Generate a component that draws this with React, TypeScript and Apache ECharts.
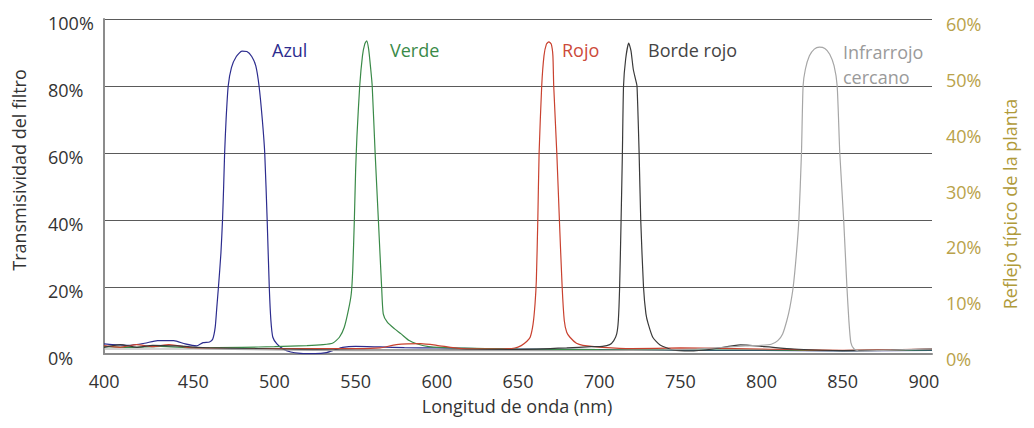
import React, { useEffect, useRef } from "react";
import * as echarts from "echarts";

// Wavelength (nm) / transmissivity (%) pairs
const azul: [number, number][] = [
  [395, 3], [400, 2.8], [410, 2.6], [420, 3.2], [428, 4], [438, 4], [445, 3], [452, 2.4], [456, 3.4], [460, 3.6],
  [462, 4.5], [463.5, 8], [464.5, 14], [465.5, 20], [467, 30], [468, 40], [468.7, 50], [469.3, 60], [470.2, 70],
  [471.5, 80], [473.5, 85.5], [476.5, 88.8], [480, 90.4], [483, 90.3], [486, 88.8], [488.5, 86], [490.5, 80],
  [492.5, 70], [494, 60], [495.5, 40], [496.8, 20], [497.8, 10], [499, 5], [501.5, 3], [505, 1.6], [510, 0.6],
  [516, 0.2], [525, 0.1], [532, 0.4], [537, 1.2], [542, 2], [550, 2.3], [565, 2.1], [580, 1.9], [600, 1.8],
  [650, 1.5], [700, 1.3], [750, 1.1], [800, 1.1], [850, 0.9], [905, 1.1]
];
const verde: [number, number][] = [
  [395, 2.2], [410, 2], [430, 2.3], [450, 1.8], [480, 2], [500, 2.2], [520, 2.5], [530, 2.8], [536, 3.3],
  [540, 5], [543, 8], [545.5, 13], [547.3, 18], [548.2, 25], [549.2, 40], [550, 55], [550.8, 65], [552.5, 80],
  [554.2, 89], [555.6, 92.5], [556.8, 93.5], [558, 91], [559.3, 85], [560.2, 80], [562, 60], [564, 40],
  [566, 20], [567, 12], [569.5, 9.5], [574, 7.5], [578, 6], [583, 4], [588, 3], [595, 2.2], [610, 1.8],
  [650, 1.5], [700, 1.3], [750, 1.2], [800, 1.2], [850, 1], [905, 1.2]
];
const rojo: [number, number][] = [
  [395, 2.5], [405, 2], [415, 2.8], [425, 2.2], [435, 2.8], [450, 1.8], [500, 1.6], [550, 1.6], [565, 1.8],
  [575, 2.8], [590, 3.1], [600, 2.6], [615, 1.6], [640, 1.5], [648, 1.8], [652, 2.5], [655.5, 3.8],
  [657.5, 5], [659.3, 9], [660.5, 15], [661.3, 22], [662.2, 40], [663, 60], [664.6, 80], [666, 89],
  [667.5, 92.5], [669, 93.2], [670.5, 92.5], [671.5, 89], [672, 80], [673.9, 60], [675.5, 40], [677.2, 20],
  [678.5, 10], [680, 6.5], [682, 5], [686, 3.2], [690, 2.6], [702, 2], [720, 1.6], [750, 1.8], [800, 1.5],
  [850, 1.1], [905, 1.5]
];
const bordeRojo: [number, number][] = [
  [395, 2], [405, 2.8], [415, 2], [425, 2.6], [440, 2.4], [460, 1.8], [500, 1.5], [550, 1.2], [600, 1.2],
  [650, 1.3], [680, 1.8], [695, 2.2], [702, 2.3], [706.5, 2.8], [709, 4], [710.8, 6], [711.8, 10],
  [712.6, 20], [713.5, 40], [714.3, 60], [715, 80], [716.3, 88], [718.2, 92.8], [719.6, 90.5], [721, 85],
  [722.4, 82], [723.3, 80], [724.6, 60], [725.6, 40], [727.3, 20], [728.8, 12], [730.2, 9], [733, 5],
  [737.5, 2.7], [745.5, 1.2], [756, 0.9], [770, 1.5], [787, 2.7], [800, 2.3], [820, 1.5], [850, 1],
  [880, 1.2], [905, 1.5]
];
const infrarrojo: [number, number][] = [
  [395, 1.5], [450, 1.5], [500, 1.2], [550, 1], [600, 1], [650, 1], [700, 1], [740, 1.2], [760, 1.5],
  [790, 2.4], [800, 2.6], [806, 2.9], [810, 4], [813, 6], [815.6, 10], [817.5, 14], [819.5, 20], [821.5, 30],
  [823, 40], [824.6, 60], [825.6, 80], [827, 85], [829.5, 89], [832.5, 91], [835.6, 91.6], [839, 91.2],
  [842, 89.5], [844.7, 86], [846.6, 80], [848.2, 60], [850.6, 40], [852.6, 20], [853.8, 10], [855, 3.5],
  [857, 1.5], [860, 0.9], [875, 1.1], [905, 1.5]
];

const seriesNames = ["Azul", "Verde", "Rojo", "Borde rojo", "Infrarrojo cercano"];
const seriesData = [azul, verde, rojo, bordeRojo, infrarrojo];
const seriesColors = ["#2c2c8e", "#3a8a48", "#c9412f", "#3a3a3a", "#a6a6a6"];

const xTicks = [400, 450, 500, 550, 600, 650, 700, 750, 800, 850, 900];
const leftTicks = [0, 20, 40, 60, 80, 100];
const rightTicks = [0, 10, 20, 30, 40, 50, 60];

const FONT = "'Open Sans', 'Noto Sans', sans-serif";

export default function App() {
  const ref = useRef<HTMLDivElement>(null);

  useEffect(() => {
    if (!ref.current) return;
    const chart = echarts.init(ref.current, undefined, { renderer: "svg" });

    const option: any = {
      animation: false,
      backgroundColor: "#ffffff",
      textStyle: { fontFamily: FONT },
      grid: { left: 104, right: 102, top: 19, bottom: 74, containLabel: false },
      xAxis: {
        type: "value",
        min: 395,
        max: 905,
        axisLine: { show: true, onZero: false, lineStyle: { color: "#8c8c8c", width: 2 } },
        axisTick: { show: false },
        splitLine: { show: false },
        axisLabel: {
          customValues: xTicks,
          margin: 18,
          fontSize: 18,
          fontFamily: FONT,
          color: "#333",
          formatter: (v: number) => (v === 400 ? "{t|400}{s|\u00a0}" : String(v)),
          rich: {
            t: { fontSize: 18, fontFamily: FONT, color: "#333" },
            s: { width: 16, fontSize: 18, color: "rgba(0,0,0,0)" },
          },
        },
      },
      yAxis: [
        {
          type: "value",
          min: 0,
          max: 100,
          interval: 20,
          axisLine: { show: true, lineStyle: { color: "#8c8c8c", width: 2 } },
          axisTick: { show: false },
          splitLine: { show: true, lineStyle: { color: "#5a5a5a", width: 1 } },
          axisLabel: {
            customValues: leftTicks,
            align: "left",
            margin: 56,
            fontSize: 18,
            fontFamily: FONT,
            color: "#333",
            formatter: (v: number) => `{a|${v}%}`,
            rich: { a: { fontSize: 18, fontFamily: FONT, color: "#333", padding: [8, 0, 0, 0] } },
          },
        },
        {
          type: "value",
          position: "right",
          min: 0,
          max: 60,
          interval: 10,
          axisLine: { show: false },
          axisTick: { show: false },
          splitLine: { show: false },
          axisLabel: {
            customValues: rightTicks,
            margin: 14,
            fontSize: 18,
            fontFamily: FONT,
            color: "#b9a24a",
            formatter: (v: number) => `{a|${v}%}`,
            rich: { a: { fontSize: 18, fontFamily: FONT, color: "#b9a24a", padding: [10, 0, 0, 0] } },
          },
        },
      ],
      series: seriesNames.map((name, i) => ({
        name,
        type: "line",
        data: seriesData[i],
        showSymbol: false,
        smooth: 0.2,
        lineStyle: { color: seriesColors[i], width: 1.2 },
        itemStyle: { color: seriesColors[i] },
        z: 3,
      })),
      graphic: [
        {
          type: "text",
          x: 19,
          y: 170,
          rotation: Math.PI / 2,
          style: { text: "Transmisividad del filtro", fill: "#333", font: `18px ${FONT}`, align: "center", verticalAlign: "middle" },
        },
        {
          type: "text",
          x: 1010,
          y: 204,
          rotation: Math.PI / 2,
          style: { text: "Reflejo típico de la planta", fill: "#b09a3a", font: `18px ${FONT}`, align: "center", verticalAlign: "middle" },
        },
        {
          type: "text",
          x: 517,
          y: 406,
          style: { text: "Longitud de onda (nm)", fill: "#333", font: `18px ${FONT}`, align: "center", verticalAlign: "middle" },
        },
        { type: "text", x: 272, y: 50, style: { text: "Azul", fill: "#2c2c8e", font: `18px ${FONT}`, align: "left", verticalAlign: "middle" } },
        { type: "text", x: 390, y: 50, style: { text: "Verde", fill: "#3a8a48", font: `18px ${FONT}`, align: "left", verticalAlign: "middle" } },
        { type: "text", x: 562, y: 50, style: { text: "Rojo", fill: "#cc4a3a", font: `18px ${FONT}`, align: "left", verticalAlign: "middle" } },
        { type: "text", x: 648, y: 50, style: { text: "Borde rojo", fill: "#444", font: `18px ${FONT}`, align: "left", verticalAlign: "middle" } },
        { type: "text", x: 843, y: 52, style: { text: "Infrarrojo", fill: "#9a9a9a", font: `18px ${FONT}`, align: "left", verticalAlign: "middle" } },
        { type: "text", x: 843, y: 77, style: { text: "cercano", fill: "#9a9a9a", font: `18px ${FONT}`, align: "left", verticalAlign: "middle" } },
      ],
    };

    chart.setOption(option);
    return () => chart.dispose();
  }, []);

  return (
    <div
      ref={ref}
      style={{ position: "fixed", left: 0, top: 0, width: 1034, height: 428, background: "#fff" }}
    />
  );
}
